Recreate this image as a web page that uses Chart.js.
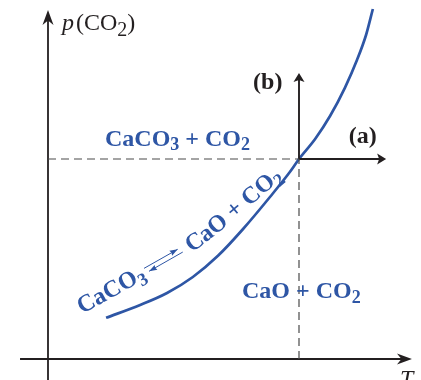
<!DOCTYPE html>
<html><head><meta charset="utf-8">
<script src="https://cdn.jsdelivr.net/npm/chart.js@4/dist/chart.umd.min.js"></script>
<style>html,body{margin:0;padding:0;background:#fff;}#wrap{width:421px;height:380px;}</style>
</head><body><div id="wrap"><canvas id="c" width="421" height="380"></canvas></div>
<script>
// Equilibrium curve p(CO2) vs T (schematic units)
const curveT = [1.62, 2.57, 3.32, 4.04, 4.74, 5.44, 6.19, 6.75, 7.00, 7.45, 7.87, 8.28, 8.62, 8.87, 9.06];
const curveP = [1.03, 1.35, 1.65, 2.05, 2.58, 3.25, 4.05, 4.68, 5.00, 5.50, 6.08, 6.78, 7.48, 8.10, 8.75];
// equilibrium point marked by dashed lines
const eqT = 7.0;
const eqP = 5.0;
// axis extents
const axisT = [-0.78, 10.15];
const axisP = [-0.6, 8.725];
// arrows (a) and (b) end values
const arrowAT = 9.43;
const arrowBP = 7.15;
// baseline path of the curved reaction label
const labelPathT = [0.95, 2.57, 4.15, 5.36, 6.64];
const labelPathP = [1.125, 1.925, 2.75, 3.62, 4.60];

const BLUE = '#2e56a5';
const BLACK = '#231f20';
const SERIF = '"Liberation Serif", "DejaVu Serif", serif';

const pts = (ts, ps) => ts.map((t, i) => ({x: t, y: ps[i]}));

function head(ctx, x, y, ang, len, hw, notch, color) {
  const dx = Math.cos(ang), dy = Math.sin(ang);
  const nx = -dy, ny = dx;
  ctx.save();
  ctx.fillStyle = color;
  ctx.beginPath();
  ctx.moveTo(x, y);
  ctx.lineTo(x - len*dx + hw*nx, y - len*dy + hw*ny);
  ctx.lineTo(x - (len-notch)*dx, y - (len-notch)*dy);
  ctx.lineTo(x - len*dx - hw*nx, y - len*dy - hw*ny);
  ctx.closePath();
  ctx.fill();
  ctx.restore();
}

function font(p) {
  return (p.italic ? 'italic ' : '') + (p.bold ? 'bold ' : '') + p.size + 'px ' + SERIF;
}

function rich(ctx, x, y, parts, color) {
  ctx.save();
  ctx.fillStyle = color;
  ctx.textBaseline = 'alphabetic';
  ctx.textAlign = 'left';
  let cx = x;
  for (const p of parts) {
    if (p.gap) { cx += p.gap; continue; }
    ctx.font = font(p);
    ctx.fillText(p.t, cx, y + (p.dy || 0));
    cx += ctx.measureText(p.t).width;
  }
  ctx.restore();
}

function buildPath(anchors) {
  const out = [];
  const n = anchors.length;
  for (let i = 0; i < n - 1; i++) {
    const p0 = anchors[Math.max(0, i-1)], p1 = anchors[i], p2 = anchors[i+1], p3 = anchors[Math.min(n-1, i+2)];
    for (let k = 0; k < 40; k++) {
      const t = k/40, t2 = t*t, t3 = t2*t;
      const f = (a,b,c,d) => 0.5*((2*b) + (-a+c)*t + (2*a-5*b+4*c-d)*t2 + (-a+3*b-3*c+d)*t3);
      out.push({x: f(p0.x,p1.x,p2.x,p3.x), y: f(p0.y,p1.y,p2.y,p3.y)});
    }
  }
  out.push(anchors[n-1]);
  const cum = [0];
  for (let i = 1; i < out.length; i++) cum.push(cum[i-1] + Math.hypot(out[i].x-out[i-1].x, out[i].y-out[i-1].y));
  return function at(s) {
    let i = 1;
    while (i < out.length - 1 && cum[i] < s) i++;
    const a = out[i-1], b = out[i];
    const seg = cum[i] - cum[i-1] || 1;
    const u = (s - cum[i-1]) / seg;
    return {x: a.x + (b.x-a.x)*u, y: a.y + (b.y-a.y)*u, ang: Math.atan2(b.y-a.y, b.x-a.x)};
  };
}

const annot = {
  id: 'annot',
  afterDatasetsDraw(chart) {
    const ctx = chart.ctx;
    const xs = chart.scales.x, ys = chart.scales.y;
    const X = v => xs.getPixelForValue(v), Y = v => ys.getPixelForValue(v);

    head(ctx, X(axisT[1]), Y(0), 0, 15, 5.5, 4.5, BLACK);
    head(ctx, X(0), Y(axisP[1]), -Math.PI/2, 15, 5.5, 4.5, BLACK);
    head(ctx, X(arrowAT), Y(eqP), 0, 9, 5.5, 2, BLACK);
    head(ctx, X(eqT), Y(arrowBP), -Math.PI/2, 9, 5.5, 2, BLACK);

    rich(ctx, X(0.39), Y(8.225), [
      {t: 'p', italic: true, size: 24}, {gap: 2},
      {t: '(CO', size: 24}, {t: '2', size: 20, dy: 6}, {t: ')', size: 24}], BLACK);
    rich(ctx, X(9.82), Y(-0.675), [{t: 'T', italic: true, size: 24}], BLACK);

    rich(ctx, X(1.59), Y(5.325), [
      {t: 'CaCO', bold: true, size: 24}, {t: '3', bold: true, size: 18, dy: 4},
      {t: ' + CO', bold: true, size: 24}, {t: '2', bold: true, size: 18, dy: 4}], BLUE);
    rich(ctx, X(5.41), Y(1.525), [
      {t: 'CaO + CO', bold: true, size: 24}, {t: '2', bold: true, size: 18, dy: 5}], BLUE);
    rich(ctx, X(5.72), Y(6.75), [{t: '(b)', bold: true, size: 24}], BLACK);
    rich(ctx, X(8.39), Y(5.4), [{t: '(a)', bold: true, size: 24}], BLACK);

    const at = buildPath(labelPathT.map((t, i) => ({x: X(t), y: Y(labelPathP[i])})));
    const seq = [
      {t: 'CaCO', bold: true, size: 24}, {t: '3', bold: true, size: 18, dy: 5},
      {arrows: 42, pre: 2, post: 7},
      {t: 'CaO + CO', bold: true, size: 24}, {t: '2', bold: true, size: 18, dy: 5}];
    ctx.save();
    ctx.fillStyle = BLUE;
    ctx.strokeStyle = BLUE;
    ctx.textAlign = 'center';
    ctx.textBaseline = 'alphabetic';
    let s = 0;
    const off = (q, d) => ({x: q.x + Math.sin(q.ang)*d, y: q.y - Math.cos(q.ang)*d});
    for (const p of seq) {
      if (p.arrows) {
        const s0 = s + p.pre, s1 = s0 + p.arrows;
        const ua = off(at(s0), 10), ub = off(at(s1 - 3), 10);
        const la = off(at(s0 + 3), 5), lb = off(at(s1), 5);
        ctx.lineWidth = 1;
        ctx.beginPath(); ctx.moveTo(ua.x, ua.y); ctx.lineTo(ub.x, ub.y); ctx.stroke();
        ctx.beginPath(); ctx.moveTo(la.x, la.y); ctx.lineTo(lb.x, lb.y); ctx.stroke();
        head(ctx, ub.x, ub.y, Math.atan2(ub.y-ua.y, ub.x-ua.x), 8, 2.8, 1, BLUE);
        head(ctx, la.x, la.y, Math.atan2(la.y-lb.y, la.x-lb.x), 8, 2.8, 1, BLUE);
        s = s1 + p.post;
        continue;
      }
      ctx.font = font(p);
      for (const ch of p.t) {
        const w = ctx.measureText(ch).width;
        if (ch !== ' ') {
          const q = at(s + w/2);
          ctx.save();
          ctx.translate(q.x, q.y);
          ctx.rotate(q.ang);
          ctx.fillText(ch, 0, p.dy || 0);
          ctx.restore();
        }
        s += w;
      }
    }
    ctx.restore();
  }
};

const lineDs = (data, color, width, dash) => ({
  data, showLine: true, borderColor: color, borderWidth: width, borderDash: dash || [],
  pointRadius: 0, fill: false, clip: false, borderCapStyle: 'butt'
});

new Chart(document.getElementById('c'), {
  type: 'scatter',
  data: {
    datasets: [
      lineDs([{x: 0, y: eqP}, {x: eqT, y: eqP}], '#4a4a4a', 1.2, [8, 5]),
      lineDs([{x: eqT, y: 0}, {x: eqT, y: eqP}], '#4a4a4a', 1.2, [8, 5]),
      lineDs([{x: axisT[0], y: 0}, {x: axisT[1] - 0.1, y: 0}], BLACK, 1.8),
      lineDs([{x: 0, y: axisP[0]}, {x: 0, y: axisP[1] - 0.1}], BLACK, 1.8),
      lineDs([{x: eqT, y: eqP}, {x: arrowAT - 0.1, y: eqP}], BLACK, 1.9),
      lineDs([{x: eqT, y: eqP}, {x: eqT, y: arrowBP - 0.1}], BLACK, 1.9),
      Object.assign(lineDs(pts(curveT, curveP), BLUE, 2.7), {cubicInterpolationMode: 'monotone'})
    ]
  },
  options: {
    responsive: false,
    devicePixelRatio: 1,
    animation: false,
    layout: {padding: 0},
    plugins: {legend: {display: false}, tooltip: {enabled: false}},
    scales: {
      x: {type: 'linear', display: false, min: -1.3387, max: 10.4025},
      y: {type: 'linear', display: false, min: -0.525, max: 8.975}
    }
  },
  plugins: [annot]
});
</script></body></html>
